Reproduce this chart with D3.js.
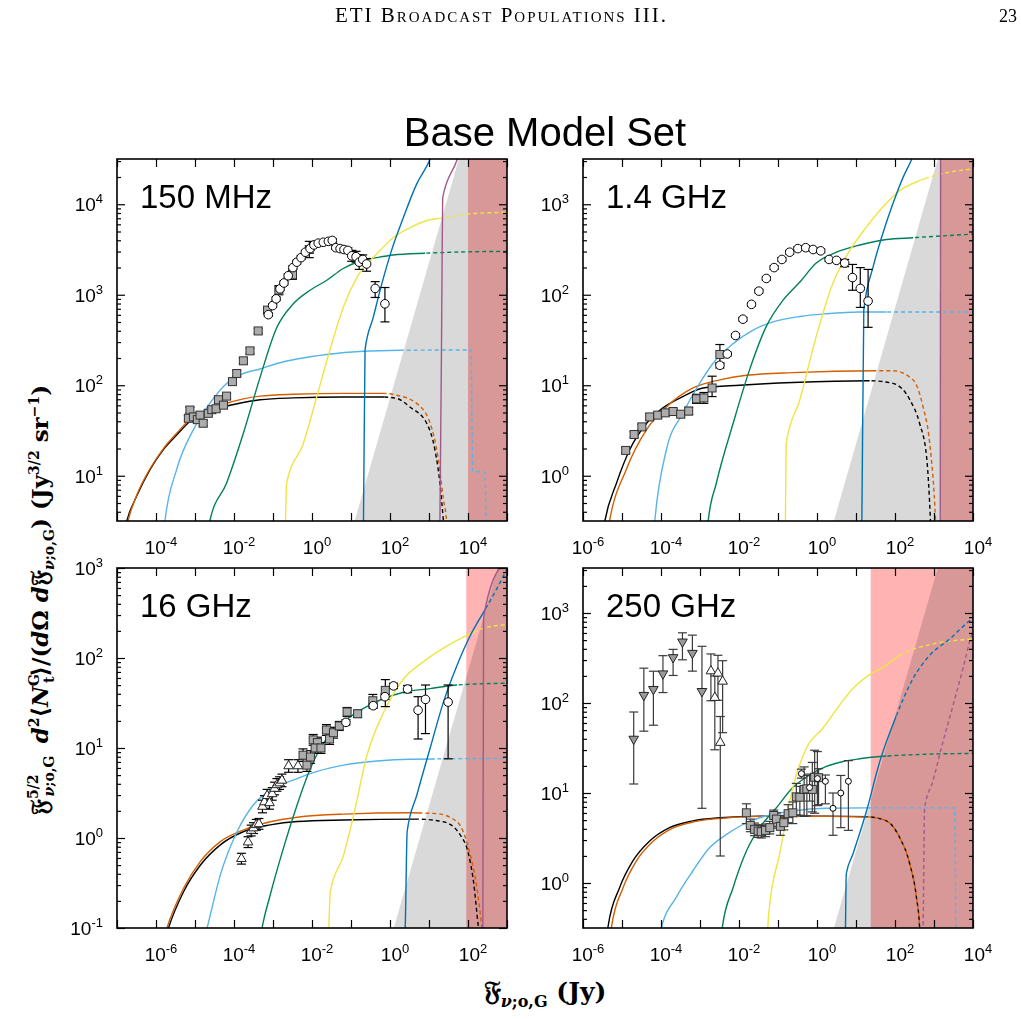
<!DOCTYPE html>
<html>
<head>
<meta charset="utf-8">
<script src="https://cdn.jsdelivr.net/npm/d3@7"></script>
<style>
body{margin:0;background:#fff;}
svg{display:block;}
</style>
</head>
<body>
<script>
// values; every pair is [log10 F (Jy), log10 F^5/2 dN/dF]
// points are [log10 F, log10 S, down, up] with the error bar in dex

// ---- 150 MHz
const m150Black  = [[-4.85,0.3],[-4.75,0.5],[-4.5,0.77],[-4.15,1.07],[-3.81,1.29],[-3.47,1.45],[-3.13,1.6],[-2.7,1.69],[-2.27,1.76],[-1.76,1.81],[-1.33,1.84],[-0.48,1.86],[0.8,1.87],[1.83,1.87],[2.17,1.855],[2.51,1.76],[2.94,1.58],[3.15,1.29],[3.28,0.92],[3.37,0.5],[3.41,0.3]];
const m150Orange = [[-4.82,0.3],[-4.72,0.5],[-4.5,0.78],[-4.15,1.08],[-3.81,1.3],[-3.47,1.47],[-3.13,1.62],[-2.7,1.72],[-2.27,1.79],[-1.76,1.85],[-1.33,1.88],[-0.48,1.9],[0.8,1.91],[1.83,1.91],[2.17,1.89],[2.68,1.8],[3.03,1.58],[3.24,1.18],[3.37,0.74],[3.45,0.5],[3.48,0.3]];
const m150Sky    = [[-3.82,0.3],[-3.77,0.5],[-3.47,1.07],[-3.04,1.51],[-2.62,1.8],[-2.19,2.02],[-1.76,2.13],[-1.33,2.18],[-0.9,2.24],[-0.39,2.29],[0.38,2.34],[1.32,2.375],[2.26,2.386],[4.08,2.39],[4.12,1.05],[4.43,1.04],[4.47,0.3]];
const m150Green  = [[-2.66,0.3],[-2.62,0.5],[-2.19,0.92],[-1.76,1.47],[-1.33,2.09],[-0.9,2.64],[-0.48,2.9],[-0.05,3.05],[0.38,3.16],[0.8,3.29],[1.23,3.37],[1.66,3.41],[2.08,3.44],[2.94,3.46],[5,3.48]];
const m150Yellow = [[-0.69,0.3],[-0.68,0.5],[-0.65,0.92],[-0.22,1.36],[0.12,1.87],[0.46,2.39],[0.8,2.86],[1.15,3.19],[1.66,3.45],[2.08,3.63],[2.51,3.74],[2.94,3.82],[3.37,3.85],[4.22,3.9],[5,3.91]];
const m150Blue   = [[1.31,0.3],[1.32,0.5],[1.36,2.39],[1.57,2.75],[1.79,3.12],[2.04,3.49],[2.34,3.85],[2.68,4.22],[3.01,4.48],[3.2,4.7]];
const m150Purple = [[3.27,0.3],[3.28,0.5],[3.33,3.0],[3.35,4.07],[3.71,4.48],[3.8,4.6]];
const m150Gray   = [[0.96,0.3],[3.9,4.7]];
const m150Red    = 4.0;
const m150Squares = [[-3.13,1.726,.03,.03],[-3.17,1.635,.03,.03],[-3.04,1.65,.03,.03],[-2.94,1.62,.03,.03],[-2.87,1.67,.03,.03],[-2.79,1.58,.03,.03],[-2.66,1.69,.03,.03],[-2.57,1.73,.03,.03],[-2.46,1.74,.03,.03],[-2.4,1.84,.03,.03],[-2.27,1.78,.03,.03],[-2.19,1.88,.03,.03],[-2.04,2.04,.03,.03],[-1.93,2.13,.03,.03],[-1.76,2.27,.03,.03],[-1.59,2.38,.03,.03],[-1.38,2.6,.03,.03],[-1.14,2.83,.03,.03],[-0.85,3.05,.05,.05],[-0.5,3.22,.05,.05],[-0.07,3.5,.09,.09]];
const m150Circles = [[-1.12,2.78,.02,.02],[-1.01,2.88,.02,.02],[-0.92,2.955,.02,.02],[-0.82,3.065,.02,.02],[-0.72,3.13,.02,.02],[-0.61,3.21,.02,.02],[-0.49,3.3,.02,.02],[-0.39,3.36,.02,.02],[-0.28,3.41,.02,.02],[-0.17,3.47,.02,.02],[-0.05,3.51,.02,.02],[0.05,3.55,.02,.02],[0.16,3.57,.02,.02],[0.29,3.58,.02,.02],[0.42,3.59,.02,.02],[0.52,3.6,.02,.02],[0.61,3.52,.02,.02],[0.72,3.51,.02,.02],[0.82,3.5,.02,.02],[0.92,3.49,.03,.03],[1.02,3.43,.06,.06],[1.13,3.42,.06,.06],[1.21,3.36,.08,.08],[1.3,3.39,.05,.05],[1.4,3.34,.08,.06],[1.62,3.07,.1,.075],[1.87,2.9,.2,.18]];

// ---- 1.4 GHz
const g14Black  = [[-5.5,-0.65],[-5.44,-0.5],[-5.14,-0.08],[-4.8,0.29],[-4.37,0.58],[-3.95,0.75],[-3.44,0.875],[-2.92,0.97],[-1.98,1.0],[-0.62,1.03],[1.35,1.05],[1.95,1.02],[2.38,0.84],[2.63,0.58],[2.81,0.21],[2.91,-0.5],[2.93,-0.7]];
const g14Orange = [[-5.38,-0.65],[-5.32,-0.5],[-4.89,0.07],[-4.37,0.51],[-3.86,0.76],[-3.18,0.97],[-2.49,1.06],[-1.81,1.11],[-0.62,1.14],[1.52,1.16],[1.95,1.16],[2.46,1.06],[2.72,0.76],[2.89,0.36],[3.04,-0.5],[3.06,-0.7]];
const g14Sky    = [[-4.2,-0.7],[-4.16,-0.5],[-3.86,0.29],[-3.44,0.69],[-3.01,1.02],[-2.67,1.24],[-2.15,1.46],[-1.64,1.61],[-1.13,1.7],[-0.44,1.76],[0.24,1.79],[1.1,1.81],[4,1.81]];
const g14Green  = [[-2.82,-0.7],[-2.79,-0.5],[-2.58,-0.08],[-2.15,0.58],[-1.73,1.17],[-1.3,1.65],[-0.87,1.94],[-0.44,2.14],[-0.02,2.35],[0.5,2.47],[1.1,2.55],[1.78,2.61],[2.46,2.63],[4,2.67]];
const g14Yellow = [[-0.82,-0.7],[-0.81,-0.5],[-0.79,0.36],[-0.44,0.84],[-0.02,1.54],[0.41,2.13],[0.84,2.49],[1.27,2.75],[1.69,2.97],[2.12,3.15],[2.63,3.26],[3.23,3.34],[4,3.39]];
const g14Blue   = [[1.14,-0.7],[1.15,-0.5],[1.2,1.83],[1.44,2.31],[1.69,2.68],[1.95,3.01],[2.21,3.3],[2.42,3.49],[2.6,3.7]];
const g14Purple = [[3.16,-0.7],[3.17,3.7]];
const g14Gray   = [[0.3,-0.7],[3.23,3.7]];
const g14Red    = 3.17;
const g14Squares = [[-4.905,0.28,.03,.03],[-4.69,0.456,.03,.03],[-4.49,0.54,.03,.03],[-4.29,0.65,.03,.03],[-4.085,0.67,.03,.03],[-3.89,0.695,.03,.03],[-3.69,0.71,.03,.03],[-3.495,0.68,.03,.03],[-3.29,0.715,.04,.04],[-3.09,0.85,.05,.05],[-2.9,0.86,.06,.06],[-2.69,0.97,.095,.13],[-2.49,1.34,.1,.11]];
const g14Circles = [[-2.49,1.22,.03,.03],[-2.3,1.345,.02,.02],[-2.09,1.55,.02,.02],[-1.9,1.73,.02,.02],[-1.68,1.894,.02,.02],[-1.49,2.04,.02,.02],[-1.3,2.18,.02,.02],[-1.1,2.3,.02,.02],[-0.9,2.39,.02,.02],[-0.7,2.47,.02,.02],[-0.49,2.51,.02,.02],[-0.29,2.52,.02,.02],[-0.1,2.5,.02,.02],[0.095,2.485,.02,.02],[0.31,2.39,.02,.02],[0.5,2.38,.02,.02],[0.71,2.35,.04,.04],[0.91,2.19,.14,.145],[1.11,2.07,.21,.23],[1.31,1.93,.29,.35]];

// ---- 16 GHz
const g16Black  = [[-5.75,-1.1],[-5.68,-1.0],[-5.29,-0.594],[-4.86,-0.3],[-4.35,-0.076],[-3.75,0.072],[-3.07,0.146],[-2.38,0.183],[-1.19,0.2],[0.69,0.21],[1.37,0.18],[1.8,0.035],[2.02,-0.19],[2.14,-0.48],[2.27,-1.0],[2.3,-1.1]];
const g16Orange = [[-5.79,-1.1],[-5.72,-1.0],[-5.29,-0.556],[-4.86,-0.26],[-4.35,-0.04],[-3.75,0.09],[-3.07,0.18],[-2.38,0.23],[-1.19,0.265],[0.52,0.28],[1.21,0.27],[1.72,0.18],[2.06,-0.19],[2.23,-0.556],[2.36,-1.0],[2.39,-1.1]];
const g16Sky    = [[-4.75,-1.1],[-4.69,-1.0],[-4.35,-0.41],[-3.92,0.072],[-3.5,0.37],[-2.98,0.55],[-2.38,0.66],[-1.87,0.74],[-1.19,0.81],[-0.33,0.855],[0.52,0.875],[3,0.885]];
const g16Green  = [[-3.32,-1.1],[-3.28,-1.0],[-3.07,-0.63],[-2.73,-0.11],[-2.38,0.37],[-2.04,0.775],[-1.62,1.11],[-1.19,1.29],[-0.68,1.44],[-0.16,1.55],[0.35,1.62],[1.03,1.66],[1.72,1.7],[3,1.72]];
const g16Yellow = [[-1.58,-1.1],[-1.57,-1.0],[-1.53,-0.594],[-1.19,-0.19],[-0.93,0.26],[-0.59,0.92],[-0.16,1.4],[0.35,1.77],[0.86,1.96],[1.37,2.11],[1.89,2.235],[2.4,2.33],[3,2.37]];
const g16Blue   = [[0.38,-1.1],[0.39,-1.0],[0.44,0.072],[0.69,0.48],[1.03,1.0],[1.37,1.51],[1.72,1.92],[2.06,2.25],[2.4,2.51],[2.74,2.77],[3,2.99]];
const g16Purple = [[2.38,-1.1],[2.4,2.45],[2.88,3.05]];
const g16Gray   = [[0.03,-1.1],[2.83,3.1]];
const g16Red    = 1.956;
const g16Triangles = [[-3.81,-0.23,.06,.06],[-3.64,-0.046,.06,.06],[-3.56,0.083,.06,.06],[-3.5,0.11,.06,.06],[-3.43,0.146,.06,.06],[-3.36,0.157,.06,.06],[-3.27,0.35,.07,.07],[-3.22,0.4,.07,.07],[-3.15,0.47,.07,.07],[-3.09,0.39,.07,.07],[-3.02,0.49,.07,.07],[-2.96,0.55,.07,.07],[-2.9,0.59,.07,.07],[-2.83,0.61,.07,.07],[-2.77,0.64,.07,.07],[-2.6,0.8,.07,.07],[-2.36,0.8,.07,.07]];
const g16Squares = [[-2.13,0.81,.07,.07],[-2.23,0.92,.07,.07],[-2.04,0.9,.07,.07],[-1.97,1.09,.06,.06],[-1.86,1.06,.06,.06],[-1.92,1.0,.06,.06],[-1.77,1.0,.06,.06],[-1.63,1.2,.06,.06],[-1.55,1.1,.06,.06],[-1.45,1.17,.06,.06],[-1.3,1.245,.05,.05],[-1.1,1.4,.05,.05],[-0.83,1.38,.04,.04],[-0.44,1.525,.07,.07],[-0.12,1.64,.18,.12]];
const g16Circles = [[-1.13,1.285,.03,.03],[-0.43,1.47,.03,.03],[-0.13,1.57,.03,.03],[0.09,1.69,.03,.03],[0.45,1.655,.04,.04],[0.72,1.42,.32,.15],[0.91,1.54,.38,.16],[1.49,1.51,.63,.19]];

// ---- 250 GHz
const g250Black  = [[-5.42,-0.7],[-5.36,-0.49],[-5.06,-0.05],[-4.72,0.246],[-4.29,0.467],[-3.78,0.615],[-3.18,0.69],[-2.49,0.725],[-1.47,0.743],[0.24,0.743],[1.27,0.736],[1.78,0.69],[2.12,0.505],[2.38,0.21],[2.55,-0.16],[2.63,-0.49],[2.65,-0.7]];
const g250Orange = [[-5.33,-0.7],[-5.27,-0.49],[-4.97,-0.05],[-4.63,0.246],[-4.21,0.46],[-3.7,0.61],[-3.1,0.685],[-2.4,0.72],[-1.47,0.74],[0.24,0.74],[1.27,0.735],[1.78,0.69],[2.12,0.505],[2.38,0.21],[2.55,-0.16],[2.63,-0.49],[2.65,-0.7]];
const g250Sky    = [[-4.05,-0.7],[-3.99,-0.5],[-3.61,-0.16],[-3.18,0.136],[-2.75,0.394],[-2.32,0.54],[-1.9,0.65],[-1.47,0.725],[-0.62,0.8],[0.24,0.83],[1.27,0.835],[3.53,0.835],[3.56,-0.7]];
const g250Green  = [[-2.47,-0.7],[-2.43,-0.5],[-2.15,-0.05],[-1.81,0.356],[-1.47,0.615],[-1.04,0.836],[-0.62,1.06],[-0.19,1.2],[0.24,1.295],[0.67,1.35],[1.09,1.38],[1.61,1.405],[2.38,1.424],[4,1.44]];
const g250Yellow = [[-1.27,-0.7],[-1.26,-0.5],[-1.23,-0.306],[-0.96,0.32],[-0.62,1.06],[-0.27,1.5],[0.15,1.72],[0.58,1.976],[0.92,2.16],[1.27,2.29],[1.78,2.42],[2.12,2.53],[2.81,2.64],[4,2.71]];
const g250Blue   = [[0.72,-0.7],[0.73,-0.5],[0.75,0.1],[0.92,0.32],[1.27,0.8],[1.61,1.35],[2.04,1.865],[2.46,2.27],[2.89,2.53],[3.4,2.71],[3.92,2.915],[4,2.94]];
const g250Purple = [[2.71,-0.7],[2.72,-0.5],[2.76,0.836],[2.97,1.13],[3.23,1.57],[3.49,1.976],[3.74,2.38],[3.96,2.75],[4,2.8]];
const g250Gray   = [[0.3,-0.7],[3.23,3.7]];
const g250Red    = 1.377;
const g250DownTri = [[-4.7,1.6,.5,.3],[-4.44,2.087,.4,.3],[-4.195,2.153,.4,.2],[-3.95,2.326,.21,.2],[-3.69,2.506,.2,.09],[-3.45,2.68,.2,.1],[-3.195,2.554,.2,.2],[-2.95,2.13,1.3,.5]];
const g250UpTri   = [[-2.72,2.355,.33,.19],[-2.62,2.06,.58,.24],[-2.54,2.33,.3,.2],[-2.42,2.24,.57,.23],[-2.48,1.56,1.26,.29]];
const g250Squares = [[-1.81,0.78,.12,.1],[-1.71,0.64,.07,.07],[-1.6,0.596,.07,.07],[-1.51,0.577,.07,.07],[-1.43,0.57,.07,.07],[-1.32,0.585,.07,.07],[-1.21,0.615,.07,.07],[-1.11,0.75,.12,.06],[-1.04,0.71,.1,.07],[-0.94,0.63,.1,.1],[-0.85,0.67,.08,.08],[-0.74,0.77,.1,.1],[-0.62,0.78,.12,.12],[-0.53,0.957,.2,.15],[-0.44,0.953,.2,.12],[-0.33,1.04,.3,.25],[-0.26,1.046,.3,.15],[-0.12,1.04,.25,.3],[-0.06,1.175,.4,.3],[0.04,1.17,.3,.1]];
const g250Circles = [[-0.4,1.215,.05,.05],[-0.19,1.06,.15,.15],[0.01,1.16,.3,.3],[0.215,1.13,.25,.07],[0.41,0.83,.3,.17],[0.61,1.0,.385,.195],[0.805,1.13,.545,.23]];

// where each curve turns dashed (log10 F); null = solid all the way
const dash150 = [1.85, 1.85, 2.26, 2.9, 3.3, null, null];
const dash14  = [1.35, 1.52, 1.78, 2.46, 2.8, null, null];
const dash16  = [0.69, 0.82, 1.15, 1.72, 2.23, 2.49, null];
const dash250 = [1.27, 1.27, 1.3, 1.78, 2.2, 2.04, -9];

// tick labels (exponents)
const xLab150 = [-4,-2,0,2,4], yLab150 = [1,2,3,4];
const xLab14  = [-6,-4,-2,0,2,4], yLab14 = [0,1,2,3];
const xLab16  = [-6,-4,-2,0,2], yLab16 = [-1,0,1,2,3];
const xLab250 = [-6,-4,-2,0,2,4], yLab250 = [0,1,2,3];

const colors = ["#000000","#d55e00","#56b4e9","#00805a","#f0e442","#0072b2","#a05a88"];

const panels = [
  {label:"150 MHz", box:[117,159,507,521], xe:[-5,5], ye:[0.5,4.5],
   curves:[m150Black,m150Orange,m150Sky,m150Green,m150Yellow,m150Blue,m150Purple], dash:dash150,
   gray:m150Gray, red:m150Red, xl:xLab150, yl:yLab150,
   pts:[{d:m150Squares,k:"sq"},{d:m150Circles,k:"ci"}]},
  {label:"1.4 GHz", box:[583,159,973,521], xe:[-6,4], ye:[-0.5,3.5],
   curves:[g14Black,g14Orange,g14Sky,g14Green,g14Yellow,g14Blue,g14Purple], dash:dash14,
   gray:g14Gray, red:g14Red, xl:xLab14, yl:yLab14,
   pts:[{d:g14Squares,k:"sq"},{d:g14Circles,k:"ci"}]},
  {label:"16 GHz", box:[117,568,507,928], xe:[-7,3], ye:[-1,3],
   curves:[g16Black,g16Orange,g16Sky,g16Green,g16Yellow,g16Blue,g16Purple], dash:dash16,
   gray:g16Gray, red:g16Red, xl:xLab16, yl:yLab16,
   pts:[{d:g16Triangles,k:"tu"},{d:g16Squares,k:"sq"},{d:g16Circles,k:"ci"}]},
  {label:"250 GHz", box:[583,568,973,928], xe:[-6,4], ye:[-0.5,3.5], bar:"#3a3a3a",
   curves:[g250Black,g250Orange,g250Sky,g250Green,g250Yellow,g250Blue,g250Purple], dash:dash250,
   gray:g250Gray, red:g250Red, xl:xLab250, yl:yLab250,
   pts:[{d:g250DownTri,k:"td"},{d:g250UpTri,k:"tu"},{d:g250Squares,k:"sq"},{d:g250Circles,k:"cs"}]}
];

const W = 1021, H = 1019;
const svg = d3.select("body").append("svg").attr("width", W).attr("height", H);
const defs = svg.append("defs");
const sans = "'Liberation Sans', Arial, Helvetica, sans-serif";
const serif = "'DejaVu Serif', 'Liberation Serif', serif";
let clipN = 0;

function clip(x0, y0, x1, y1){
  const id = "c" + (clipN++);
  defs.append("clipPath").attr("id", id).append("rect")
    .attr("x", x0).attr("y", y0).attr("width", Math.max(0, x1 - x0)).attr("height", y1 - y0);
  return "url(#" + id + ")";
}

function pow10(sel, k, big, small){
  sel.append("tspan").attr("font-size", big).text("10");
  sel.append("tspan").attr("font-size", small).attr("dy", -8).text(k);
}

panels.forEach(function(p){
  const [bx0, by0, bx1, by1] = p.box;
  const x = d3.scaleLog().domain([10 ** p.xe[0], 10 ** p.xe[1]]).range([bx0, bx1]);
  const y = d3.scaleLog().domain([10 ** p.ye[0], 10 ** p.ye[1]]).range([by1, by0]);
  const px = d => x(10 ** d[0]), py = d => y(10 ** d[1]);
  const g = svg.append("g");
  const plot = g.append("g").attr("clip-path", clip(bx0, by0, bx1, by1));

  // grey wedge
  const e0 = [px(p.gray[0]), py(p.gray[0])], e1 = [px(p.gray[1]), py(p.gray[1])];
  plot.append("path")
    .attr("d", d3.line()([e0, e1, [bx1 + 60, e1[1]], [bx1 + 60, e0[1]]]))
    .attr("fill", "#d9d9d9");
  // red band
  const rx = x(10 ** p.red);
  plot.append("rect").attr("x", rx).attr("y", by0).attr("width", bx1 - rx).attr("height", by1 - by0)
    .attr("fill", "#ffb3b3").style("mix-blend-mode", "multiply");

  // model curves
  const line = d3.line().x(px).y(py).curve(d3.curveMonotoneX);
  p.curves.forEach(function(c, i){
    const ds = p.dash[i];
    const xs = ds === null ? bx1 : Math.max(bx0, Math.min(bx1, x(10 ** ds)));
    plot.append("path").attr("d", line(c)).attr("fill", "none")
      .attr("stroke", colors[i]).attr("stroke-width", 1.4)
      .attr("clip-path", clip(bx0, by0 - 5, xs, by1 + 5));
    if (ds !== null) {
      plot.append("path").attr("d", line(c)).attr("fill", "none")
        .attr("stroke", colors[i]).attr("stroke-width", 1.4).attr("stroke-dasharray", "4,3")
        .attr("clip-path", clip(xs, by0 - 5, bx1, by1 + 5));
    }
  });

  // data points
  const barCol = p.bar || "#000";
  p.pts.forEach(function(set){
    const eb = g.append("g").attr("stroke", barCol).attr("stroke-width", 1.2);
    const cw = 4.5;
    set.d.forEach(function(d){
      const cx = px(d), yt = y(10 ** (d[1] + d[3])), yb = y(10 ** (d[1] - d[2]));
      eb.append("line").attr("x1", cx).attr("x2", cx).attr("y1", yt).attr("y2", yb);
      eb.append("line").attr("x1", cx - cw).attr("x2", cx + cw).attr("y1", yt).attr("y2", yt);
      eb.append("line").attr("x1", cx - cw).attr("x2", cx + cw).attr("y1", yb).attr("y2", yb);
    });
  });
  p.pts.forEach(function(set){
    const mg = g.append("g");
    set.d.forEach(function(d){
      const cx = px(d), cy = py(d);
      if (set.k === "ci" || set.k === "cs") {
        mg.append("circle").attr("cx", cx).attr("cy", cy).attr("r", set.k === "ci" ? 4.3 : 3)
          .attr("fill", "#fff").attr("stroke", "#000").attr("stroke-width", 1);
      } else if (set.k === "sq") {
        mg.append("rect").attr("x", cx - 4).attr("y", cy - 4).attr("width", 8).attr("height", 8)
          .attr("fill", "#acacac").attr("stroke", "#333").attr("stroke-width", 1);
      } else {
        const down = set.k === "td";
        mg.append("path").attr("d", d3.symbol(d3.symbolTriangle, 40)())
          .attr("transform", "translate(" + cx + "," + cy + ")" + (down ? " rotate(180)" : ""))
          .attr("fill", down ? "#9a9a9a" : "#fff").attr("stroke", "#222").attr("stroke-width", 1);
      }
    });
  });

  // axes: major ticks each decade, minor on y
  const decX = x.ticks(20).filter(t => Math.abs(Math.log10(t) - Math.round(Math.log10(t))) < 1e-6);
  const allY = y.ticks(40);
  const decY = allY.filter(t => Math.abs(Math.log10(t) - Math.round(Math.log10(t))) < 1e-6);
  const minY = allY.filter(t => decY.indexOf(t) < 0);
  const ax = g.append("g").attr("stroke-width", 1.2);
  ax.append("g").attr("transform", "translate(0," + by1 + ")")
    .call(d3.axisBottom(x).tickValues(decX).tickSize(-8).tickFormat(""));
  ax.append("g").attr("transform", "translate(0," + by0 + ")")
    .call(d3.axisTop(x).tickValues(decX).tickSize(-8).tickFormat(""));
  ax.append("g").attr("transform", "translate(" + bx0 + ",0)")
    .call(d3.axisLeft(y).tickValues(decY).tickSize(-8).tickFormat(""));
  ax.append("g").attr("transform", "translate(" + bx0 + ",0)")
    .call(d3.axisLeft(y).tickValues(minY).tickSize(-4).tickFormat(""));
  ax.append("g").attr("transform", "translate(" + bx1 + ",0)")
    .call(d3.axisRight(y).tickValues(decY).tickSize(-8).tickFormat(""));
  ax.append("g").attr("transform", "translate(" + bx1 + ",0)")
    .call(d3.axisRight(y).tickValues(minY).tickSize(-4).tickFormat(""));
  ax.selectAll(".domain").remove();
  ax.selectAll(".tick line").attr("stroke", "#000").attr("stroke-width", 1.2);

  g.append("rect").attr("x", bx0).attr("y", by0).attr("width", bx1 - bx0).attr("height", by1 - by0)
    .attr("fill", "none").attr("stroke", "#000").attr("stroke-width", 1.6);

  // tick labels
  p.xl.forEach(function(k){
    const t = g.append("text").attr("x", x(10 ** k) + 5).attr("y", by1 + 33)
      .attr("text-anchor", "middle").attr("font-family", sans).attr("fill", "#000");
    pow10(t, k, 19, 13);
  });
  p.yl.forEach(function(k){
    const t = g.append("text").attr("x", bx0 - 14).attr("y", y(10 ** k) + 7)
      .attr("text-anchor", "end").attr("font-family", sans).attr("fill", "#000");
    pow10(t, k, 19, 13);
  });

  g.append("text").attr("x", bx0 + 23).attr("y", by0 + 49)
    .attr("font-family", sans).attr("font-size", 33).attr("fill", "#000").text(p.label);
});

// page header and title
svg.append("text").attr("x", 335).attr("y", 22)
  .attr("font-family", "'Liberation Serif', 'DejaVu Serif', serif").attr("font-size", 21)
  .attr("textLength", 331).attr("lengthAdjust", "spacing")
  .style("font-variant", "small-caps").text("ETI Broadcast Populations III.");
svg.append("text").attr("x", 1017).attr("y", 22).attr("text-anchor", "end")
  .attr("font-family", "'Liberation Serif', 'DejaVu Serif', serif").attr("font-size", 18).text("23");
svg.append("text").attr("x", 545).attr("y", 146).attr("text-anchor", "middle")
  .attr("font-family", sans).attr("font-size", 40).text("Base Model Set");

// math labels: [text, baseline offset, size, italic, dx]
function mathText(sel, parts){
  let cur = 0;
  parts.forEach(function(s){
    const t = sel.append("tspan").attr("font-size", s[2]).attr("dy", s[1] - cur).text(s[0]);
    if (s[3]) t.attr("font-style", "italic");
    if (s[4]) t.attr("dx", s[4]);
    cur = s[1];
  });
}
const yTitle = svg.append("text").attr("transform", "translate(48,600) rotate(-90)")
  .attr("text-anchor", "middle").attr("font-family", serif).attr("font-weight", "bold").attr("fill", "#000");
mathText(yTitle, [
  ["\u{1D509}",0,25],["5/2",-10,14],["\u03BD",6,14,true,-22],[";o,G",6,14],["\u2009 ",0,22],
  ["d",0,23,true],["2",-9,14],["\u27E8",0,23],["N",0,23,true],["G",-9,14],["t",6,14,false,-9],
  ["\u27E9/(",0,23],["d",0,23,true],["\u03A9 ",0,23],["d",0,23,true],["\u{1D509}",0,25],["\u03BD",6,14,true],[";o,G",6,14],
  [") (Jy",0,23],["3/2",-9,14],[" sr",0,23],["\u22121",-9,14],[")",0,23]
]);
const xTitle = svg.append("text").attr("x", 545).attr("y", 1000).attr("text-anchor", "middle")
  .attr("font-family", serif).attr("font-weight", "bold").attr("fill", "#000");
mathText(xTitle, [["\u{1D509}",0,27],["\u03BD",7,16,true],[";o,G",7,16],[" (Jy)",0,25]]);
</script>
</body>
</html>
